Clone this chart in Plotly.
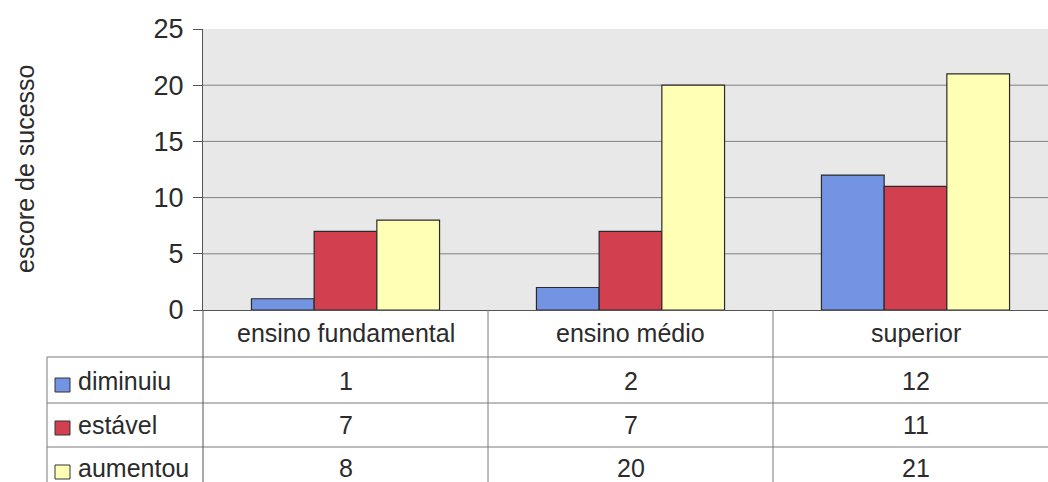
import plotly.graph_objects as go

# ---- data ----
categories = ["ensino fundamental", "ensino médio", "superior"]
series_names = ["diminuiu", "estável", "aumentou"]
diminuiu = [1, 2, 12]
estavel = [7, 7, 11]
aumentou = [8, 20, 21]
y_ticks = [0, 5, 10, 15, 20, 25]
y_title = "escore de sucesso"

series_values = [diminuiu, estavel, aumentou]
series_colors = ["#7393e3", "#d2404f", "#ffffb5"]

# ---- page geometry (pixels) ----
W, H = 1048, 482
M_L, M_R, M_T, M_B = 203, 0, 29, 172
PLOT_W = W - M_L - M_R
PLOT_H = H - M_T - M_B
CAT_W = 285  # width of one category column


def px(x_pix):
    return (x_pix - M_L) / PLOT_W


def py(y_pix):
    return (H - M_B - y_pix) / PLOT_H


FONT = "Liberation Sans, Arial, sans-serif"
TXT = "#2b2b2b"
LINE = "#7a7a7a"

fig = go.Figure()
for name, vals, col in zip(series_names, series_values, series_colors):
    fig.add_trace(go.Bar(
        x=categories, y=vals, name=name,
        marker=dict(color=col, line=dict(color="#2a2a2a", width=1.2)),
        showlegend=False,
    ))

shapes = []
# horizontal gridlines
for t in y_ticks[1:-1]:
    shapes.append(dict(type="line", xref="paper", yref="y", x0=0, x1=1, y0=t, y1=t,
                       line=dict(color="#808080", width=1), layer="below"))

# data table: horizontal rules
row_lines = [357, 403, 447]
for yl in row_lines:
    shapes.append(dict(type="line", xref="paper", yref="paper", x0=px(47), x1=1,
                       y0=py(yl), y1=py(yl), line=dict(color=LINE, width=1)))
# data table: vertical rules
shapes.append(dict(type="line", xref="paper", yref="paper", x0=0, x1=0,
                   y0=py(310), y1=py(H), line=dict(color="#555555", width=1)))
shapes.append(dict(type="line", xref="paper", yref="paper", x0=px(47), x1=px(47),
                   y0=py(357), y1=py(H), line=dict(color=LINE, width=1)))
for i in range(1, len(categories)):
    xp = i * CAT_W / PLOT_W
    shapes.append(dict(type="line", xref="paper", yref="paper", x0=xp, x1=xp,
                       y0=py(310), y1=py(H), line=dict(color=LINE, width=1)))

CELL_FONT = dict(size=25, color=TXT, family=FONT)
annotations = []
# category header row
for c in categories:
    annotations.append(dict(x=c, y=py(333), xref="x", yref="paper", text=c,
                            xanchor="center", yanchor="middle",
                            showarrow=False, font=CELL_FONT))

# value rows with legend keys
row_centers = [381, 425, 468]
key_centers = [385, 428, 472]
for name, vals, col, yc, kc in zip(series_names, series_values, series_colors,
                                    row_centers, key_centers):
    shapes.append(dict(type="rect", xref="paper", yref="paper",
                       x0=px(55), x1=px(70), y0=py(kc - 7), y1=py(kc + 7),
                       fillcolor=col, line=dict(color="#333333", width=1)))
    annotations.append(dict(x=px(76), y=py(yc), xref="paper", yref="paper", text=name,
                            xanchor="left", yanchor="middle", showarrow=False,
                            font=CELL_FONT))
    for c, v in zip(categories, vals):
        annotations.append(dict(x=c, y=py(yc), xref="x", yref="paper", text=str(v),
                                xanchor="center", yanchor="middle",
                                showarrow=False, font=CELL_FONT))

# y axis title
annotations.append(dict(x=px(25), y=py(169), xref="paper", yref="paper", text=y_title,
                        textangle=-90, xanchor="center", yanchor="middle", showarrow=False,
                        font=dict(size=25, color=TXT, family=FONT)))

fig.update_layout(
    width=W, height=H,
    margin=dict(l=M_L, r=M_R, t=M_T, b=M_B, pad=0),
    paper_bgcolor="white",
    plot_bgcolor="#e8e8e8",
    barmode="group", bargap=0.34, bargroupgap=0,
    font=dict(family=FONT, color=TXT),
    xaxis=dict(type="category", range=[-0.5, -0.5 + PLOT_W / CAT_W],
               showticklabels=False, ticks="", showgrid=False,
               showline=True, linecolor="#555555", linewidth=1, zeroline=False),
    yaxis=dict(range=[0, 25], tickvals=y_ticks, showgrid=False, zeroline=False,
               ticks="outside", ticklen=9, tickcolor="#555555",
               ticklabelstandoff=4,
               showline=True, linecolor="#555555", linewidth=1,
               tickfont=dict(size=27, color=TXT, family=FONT)),
    shapes=shapes,
    annotations=annotations,
)

fig.write_html("out.html")
